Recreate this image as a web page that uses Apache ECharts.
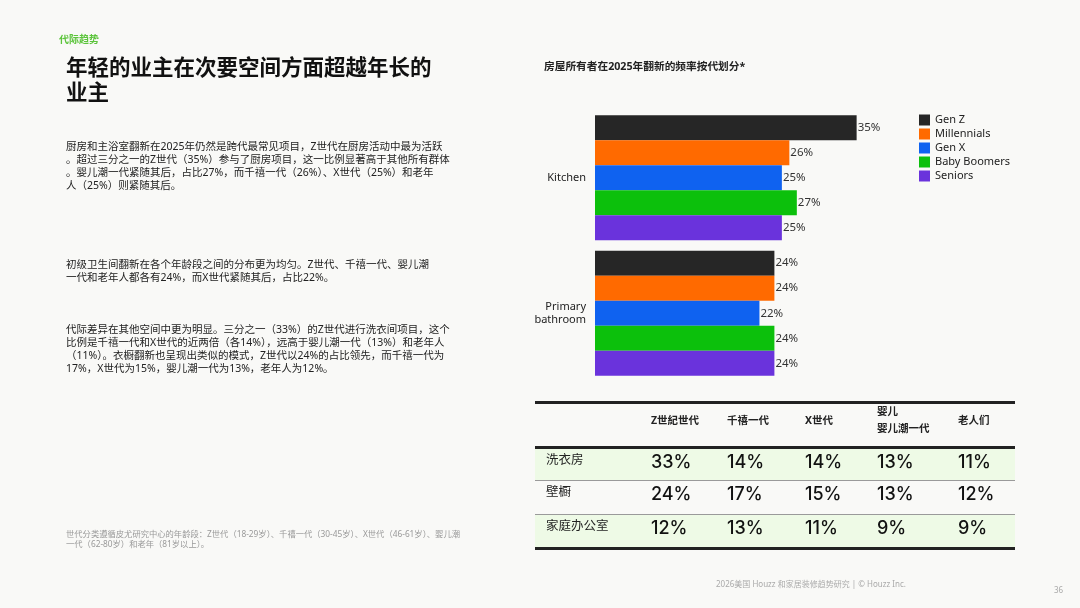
<!DOCTYPE html>
<html>
<head>
<meta charset="utf-8">
<script src="https://cdn.jsdelivr.net/npm/echarts@6.0.0/dist/echarts.min.js"></script>
<style>
  html, body { margin: 0; padding: 0; }
  body { width: 1080px; height: 608px; background: #f9f9f7; position: relative; overflow: hidden;
         font-family: "Noto Sans", "Noto Sans CJK SC", sans-serif; color: #1a1a1a; }
  #main { position: absolute; left: 0; top: 0; width: 1080px; height: 608px; }
  .t { position: absolute; white-space: nowrap; }
  .body { font-size: 10.5px; line-height: 13px; color: #222; }
  .tbl { position: absolute; }
</style>
</head>
<body>
<div id="main"></div>

<div class="t" style="left:59px;top:31px;font-size:10px;font-weight:bold;color:#5cc43c;">代际趋势</div>
<div class="t" style="left:66px;top:54px;font-size:21.5px;line-height:25px;font-weight:bold;color:#111;">年轻的业主在次要空间方面超越年长的<br>业主</div>

<div class="t body" style="left:66px;top:140px;">厨房和主浴室翻新在2025年仍然是跨代最常见项目，Z世代在厨房活动中最为活跃<br>。超过三分之一的Z世代（35%）参与了厨房项目，这一比例显著高于其他所有群体<br>。婴儿潮一代紧随其后，占比27%，而千禧一代（26%）、X世代（25%）和老年<br>人（25%）则紧随其后。</div>

<div class="t body" style="left:66px;top:258px;">初级卫生间翻新在各个年龄段之间的分布更为均匀。Z世代、千禧一代、婴儿潮<br>一代和老年人都各有24%，而X世代紧随其后，占比22%。</div>

<div class="t body" style="left:66px;top:323px;">代际差异在其他空间中更为明显。三分之一（33%）的Z世代进行洗衣间项目，这个<br>比例是千禧一代和X世代的近两倍（各14%），远高于婴儿潮一代（13%）和老年人<br>（11%）。衣橱翻新也呈现出类似的模式，Z世代以24%的占比领先，而千禧一代为<br>17%，X世代为15%，婴儿潮一代为13%，老年人为12%。</div>

<div class="t" style="left:66px;top:529px;font-size:8.3px;line-height:10px;color:#999;">世代分类遵循皮尤研究中心的年龄段：Z世代（18-29岁）、千禧一代（30-45岁）、X世代（46-61岁）、婴儿潮<br>一代（62-80岁）和老年（81岁以上）。</div>

<div class="t" style="left:544px;top:58px;font-size:10.7px;font-weight:bold;color:#222;">房屋所有者在2025年翻新的频率按代划分*</div>

<div class="t" style="left:716px;top:578px;font-size:8px;color:#aaa;">2026美国 Houzz 和家居装修趋势研究 | © Houzz Inc.</div>
<div class="t" style="left:1054px;top:584px;font-size:8px;color:#aaa;">36</div>

<div id="table"></div>

<script>
// bar chart data
var rooms = ['Kitchen', 'Primary\nbathroom'];
var generations = ['Gen Z', 'Millennials', 'Gen X', 'Baby Boomers', 'Seniors'];
var genColors = ['#262626', '#ff6a00', '#0f62f0', '#0cc00c', '#6a33dc'];
var genZ = [35, 24];
var millennials = [26, 24];
var genX = [25, 22];
var boomers = [27, 24];
var seniors = [25, 24];

// table data
var tableCols = ['Z世紀世代', '千禧一代', 'X世代', '婴儿<br>婴儿潮一代', '老人们'];
var tableRows = ['洗衣房', '壁橱', '家庭办公室'];
var laundry = [33, 14, 14, 13, 11];
var closet = [24, 17, 15, 13, 12];
var homeOffice = [12, 13, 11, 9, 9];

var values = [genZ, millennials, genX, boomers, seniors];

var chart = echarts.init(document.getElementById('main'));
chart.setOption({
  backgroundColor: 'transparent',
  animation: false,
  legend: {
    orient: 'vertical',
    left: 919,
    top: 113,
    padding: 0,
    itemWidth: 11,
    itemHeight: 11,
    itemGap: 0,
    icon: 'rect',
    textStyle: { fontSize: 11, lineHeight: 14, color: '#222', fontFamily: 'Noto Sans' },
    data: generations
  },
  grid: { left: 595, top: 110, width: 299, height: 271 },
  xAxis: { type: 'value', min: 0, max: 40, show: false },
  yAxis: {
    type: 'category',
    data: rooms,
    inverse: true,
    axisLine: { show: false },
    axisTick: { show: false },
    axisLabel: { fontSize: 11, lineHeight: 13, color: '#222', margin: 9, fontFamily: 'Noto Sans' }
  },
  series: generations.map(function (g, i) {
    return {
      name: g,
      type: 'bar',
      data: values[i],
      barGap: '0%',
      barCategoryGap: '7.6%',
      itemStyle: { color: genColors[i] },
      label: {
        show: true,
        position: 'right',
        distance: 1,
        formatter: '{c}%',
        fontSize: 11.5,
        color: '#333',
        fontFamily: 'Noto Sans'
      }
    };
  })
});

// table
var tableData = [laundry, closet, homeOffice];
var colX = [651, 727, 805, 877, 958];
var html = '';
var L = 535, R = 1015;
html += '<div class="tbl" style="left:' + L + 'px;top:401px;width:' + (R - L) + 'px;height:2.5px;background:#222;"></div>';
tableCols.forEach(function (c, j) {
  var two = c.indexOf('<br>') >= 0;
  html += '<div class="t" style="left:' + colX[j] + 'px;top:' + (two ? 403 : 412) + 'px;font-size:10.5px;line-height:17px;font-weight:bold;color:#222;">' + c + '</div>';
});
html += '<div class="tbl" style="left:' + L + 'px;top:446px;width:' + (R - L) + 'px;height:2.5px;background:#222;"></div>';
var rowTop = [448.5, 481, 514.5];
var rowH = [31.5, 33, 32.5];
tableRows.forEach(function (r, i) {
  var bg = i % 2 === 0 ? '#eefae6' : 'transparent';
  html += '<div class="tbl" style="left:' + L + 'px;top:' + rowTop[i] + 'px;width:' + (R - L) + 'px;height:' + rowH[i] + 'px;background:' + bg + ';"></div>';
  html += '<div class="t" style="left:546px;top:' + (rowTop[i] + 3) + 'px;font-size:12.5px;line-height:16px;color:#222;">' + r + '</div>';
  tableData[i].forEach(function (v, j) {
    html += '<div class="t" style="left:' + colX[j] + 'px;top:' + (rowTop[i] + 1) + 'px;font-family:Inter,\'Noto Sans\',sans-serif;font-size:18px;line-height:24px;font-weight:500;color:#111;">' + v + '%</div>';
  });
  if (i < 2) {
    html += '<div class="tbl" style="left:' + L + 'px;top:' + (rowTop[i] + rowH[i]) + 'px;width:' + (R - L) + 'px;height:1px;background:#9a9a9a;"></div>';
  }
});
html += '<div class="tbl" style="left:' + L + 'px;top:547px;width:' + (R - L) + 'px;height:2.5px;background:#222;"></div>';
document.getElementById('table').innerHTML = html;
</script>
</body>
</html>
